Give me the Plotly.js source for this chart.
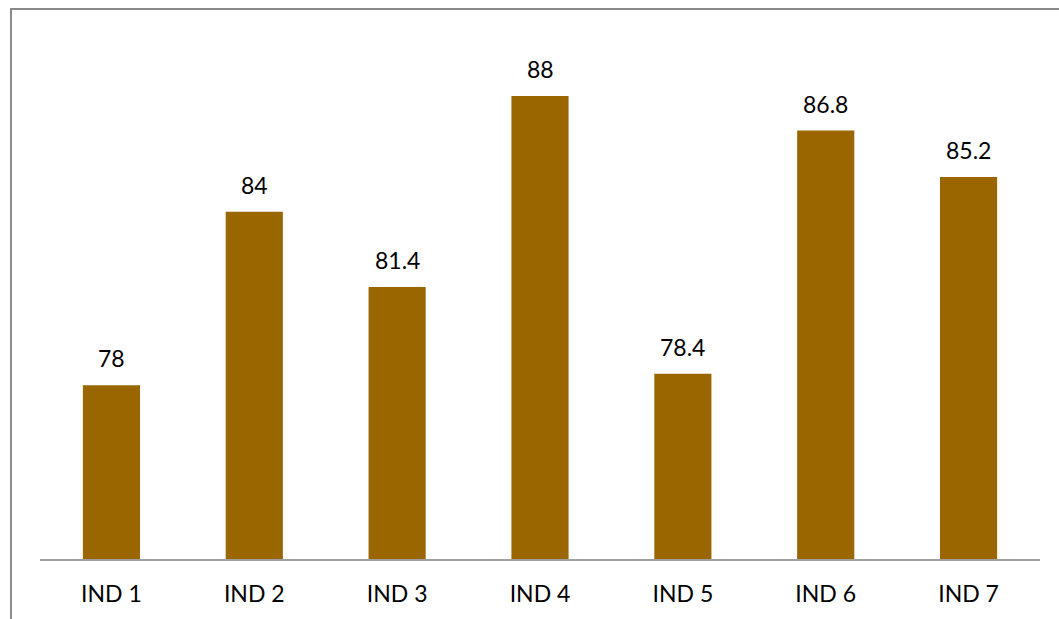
<!DOCTYPE html>
<html>
<head>
<meta charset="utf-8">
<script src="https://cdn.plot.ly/plotly-3.0.1.min.js"></script>
<style>
  html, body { margin: 0; padding: 0; background: #ffffff; }
  #chart { width: 1059px; height: 619px; }
</style>
</head>
<body>
<div id="chart"></div>
<script>
const categories = ["IND 1", "IND 2", "IND 3", "IND 4", "IND 5", "IND 6", "IND 7"];
const values = [78, 84, 81.4, 88, 78.4, 86.8, 85.2];
const valueLabels = ["78", "84", "81.4", "88", "78.4", "86.8", "85.2"];

const barColor = "#996600";
const fontFamily = "Lato, 'Open Sans', 'Liberation Sans', sans-serif";

const trace = {
  type: "bar",
  x: categories,
  y: values,
  marker: { color: barColor, line: { width: 0 } },
  hoverinfo: "skip"
};

const annotations = categories.map((c, i) => ({
  x: c,
  y: values[i],
  xref: "x",
  yref: "y",
  text: valueLabels[i],
  showarrow: false,
  yanchor: "bottom",
  yshift: 11,
  font: { family: fontFamily, size: 23, color: "#000000" }
}));

const layout = {
  width: 1059,
  height: 619,
  margin: { l: 40, r: 19, t: 38, b: 60, pad: 0 },
  paper_bgcolor: "#ffffff",
  plot_bgcolor: "#ffffff",
  showlegend: false,
  bargap: 0.6,
  font: { family: fontFamily, size: 23, color: "#000000" },
  xaxis: {
    type: "category",
    showline: true,
    linecolor: "#a0a0a0",
    linewidth: 1.5,
    ticks: "",
    ticklabelstandoff: 14,
    showgrid: false,
    zeroline: false,
    tickfont: { family: fontFamily, size: 23, color: "#000000" },
    fixedrange: true
  },
  yaxis: {
    range: [72, 90],
    visible: false,
    showgrid: false,
    zeroline: false,
    fixedrange: true
  },
  annotations: annotations,
  shapes: [{
    type: "path",
    xref: "paper",
    yref: "paper",
    path: "M -0.029,-0.2 L -0.029,1.0557 L 1.1,1.0557",
    line: { color: "#8a8a8a", width: 2 }
  }]
};

Plotly.newPlot("chart", [trace], layout, { displayModeBar: false, staticPlot: true });
</script>
</body>
</html>
